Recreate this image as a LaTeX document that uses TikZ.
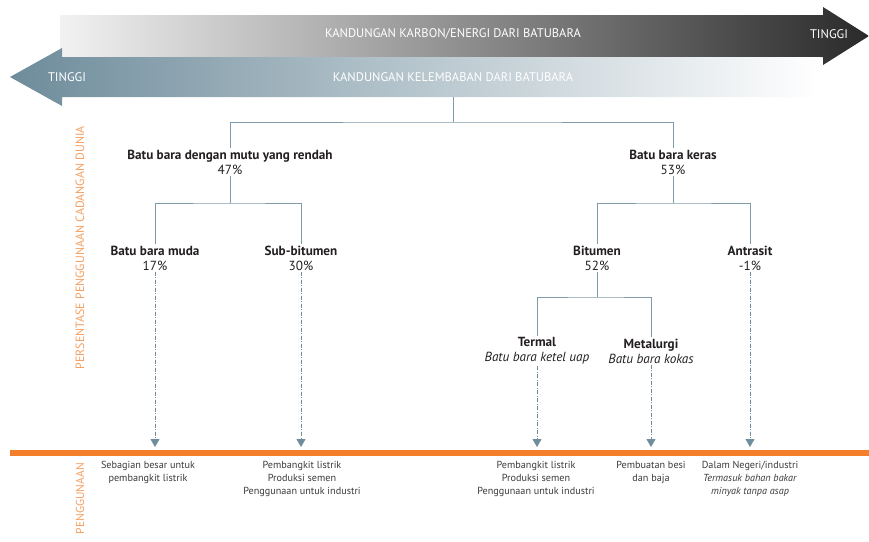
\documentclass[tikz,border=0pt]{standalone}
\usepackage{fontspec}
\setmainfont{PT Sans}
\usetikzlibrary{arrows.meta}

\definecolor{treeline}{HTML}{7F9AAA}
\definecolor{tipblue}{HTML}{6F8D9C}
\definecolor{steel}{HTML}{6E8C9B}
\definecolor{darkband}{HTML}{2A2A2A}
\definecolor{lightband}{HTML}{F2F2F2}
\definecolor{accent}{HTML}{F47F2A}
\definecolor{accentsoft}{HTML}{F5A063}
\definecolor{labeltext}{HTML}{231F20}
\definecolor{usetext}{HTML}{3A3A3A}

\begin{document}
\begin{tikzpicture}[x=1pt,y=-1pt,
  bandtext/.style={text=white,font=\fontsize{12.5}{14}\selectfont,inner sep=0pt},
  kind/.style={align=center,text=labeltext,inner sep=1.5pt,
    font=\fontsize{13.2}{15}\selectfont},
  usage/.style={align=center,text=usetext,anchor=north,inner sep=0pt,
    font=\fontsize{10.2}{13}\selectfont},
  tree/.style={draw=treeline,line width=1pt},
  flow/.style={draw=tipblue,line width=0.8pt,
    dash pattern=on 4pt off 1.5pt on 1pt off 1.5pt,
    -{Triangle[width=9pt,length=8pt,fill=tipblue]}},
  sidetext/.style={text=accentsoft,rotate=90,inner sep=0pt,
    font=\fontsize{12}{14}\selectfont}
]
\useasboundingbox (0,0) rectangle (869,541);

% carbon / energy band, pointing right
\shade[left color=lightband,right color=darkband]
  (60,15) -- (823,15) -- (823,7) -- (869,36) -- (823,65) -- (823,57)
  -- (60,57) -- cycle;
% moisture band, pointing left
\shade[left color=steel,right color=white]
  (62,57) -- (820,57) -- (820,97) -- (62,97) -- (62,106) -- (10,77)
  -- (62,48) -- cycle;

\node[bandtext] (carbon) at (453,34) {KANDUNGAN KARBON/ENERGI DARI BATUBARA};
\node[bandtext] (hiR) at (829,34) {TINGGI};
\node[bandtext] (moist) at (453,77) {KANDUNGAN KELEMBABAN DARI BATUBARA};
\node[bandtext] (hiL) at (67,77) {TINGGI};

% side captions
\node[sidetext] (share) at (80,248) {PERSENTASE PENGGUNAAN CADANGAN DUNIA};
\node[sidetext,anchor=east,font=\fontsize{11.5}{14}\selectfont] (use) at (80,463) {PENGGUNAAN};

% usage baseline
\draw[accent,line width=6pt] (10,453) -- (869,453);

% coal types
\node[kind] (lowq) at (230,162) {\textbf{Batu bara dengan mutu yang rendah}\\47\%};
\node[kind] (hard) at (673,162) {\textbf{Batu bara keras}\\53\%};
\node[kind] (muda) at (155,258) {\textbf{Batu bara muda}\\17\%};
\node[kind] (sub)  at (301,258) {\textbf{Sub-bitumen}\\30\%};
\node[kind] (bit)  at (597,258) {\textbf{Bitumen}\\52\%};
\node[kind] (antr) at (750,258) {\textbf{Antrasit}\\-1\%};
\node[kind] (term) at (537,351) {\textbf{Termal}\\\textit{Batu bara ketel uap}};
\node[kind] (meta) at (651,351) {\textbf{Metalurgi}\\\textit{Batu bara kokas}};

% branching lines
\coordinate (top) at (453,97);
\coordinate (s1) at (453,122);
\coordinate (s2) at (230,203);
\coordinate (s3) at (673,203);
\coordinate (s4) at (597,297);
\draw[tree] (top) -- (s1);
\draw[tree] (lowq.north) |- (s1) -| (hard.north);
\draw[tree] (lowq.south) -- (s2);
\draw[tree] (muda.north) |- (s2) -| (sub.north);
\draw[tree] (hard.south) -- (s3);
\draw[tree] (bit.north) |- (s3) -| (antr.north);
\draw[tree] (bit.south) -- (s4);
\draw[tree] (term.north) |- (s4) -| (meta.north);

% uses
\node[usage] (u1) at (148,461) {Sebagian besar untuk\\pembangkit listrik};
\node[usage] (u2) at (302,461) {Pembangkit listrik\\Produksi semen\\Penggunaan untuk industri};
\node[usage] (u3) at (536,461) {Pembangkit listrik\\Produksi semen\\Penggunaan untuk industri};
\node[usage] (u4) at (651,461) {Pembuatan besi\\dan baja};
\node[usage] (u5) at (750,461) {Dalam Negeri/industri\\\textit{Termasuk bahan bakar}\\\textit{minyak tanpa asap}};

% flows down to the usage line
\foreach \n in {muda,sub,term,meta,antr}
  \draw[flow] (\n.south) -- (\n.south |- 0,447);
\end{tikzpicture}
\end{document}
